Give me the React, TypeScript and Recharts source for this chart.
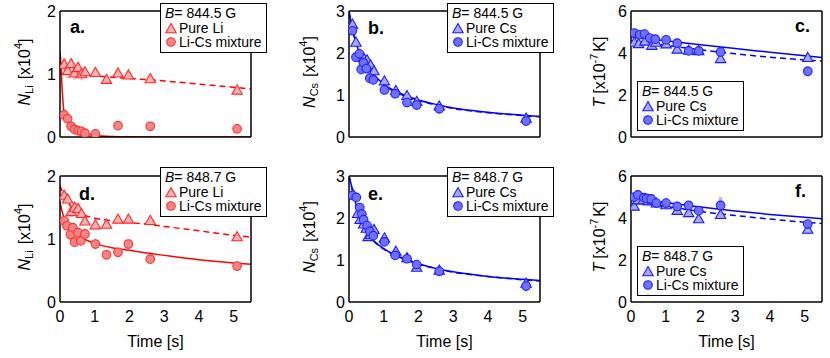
import React from 'react';
import { ComposedChart, Line, Scatter, XAxis, YAxis, Legend, Customized, ErrorBar } from 'recharts';

const FONT = '"Liberation Sans", Arial, Helvetica, sans-serif';

const TIME_TICKS = [0, 1, 2, 3, 4, 5];
const LI_TICKS = [0, 1, 2];
const CS_TICKS = [0, 1, 2, 3];
const TEMP_TICKS = [0, 2, 4, 6];

// ---------- Panel a : Li, B = 844.5 G ----------
const aPureT = [0.12, 0.22, 0.32, 0.42, 0.52, 0.62, 0.72, 1.02, 1.34, 1.67, 1.97, 2.6, 5.1];
const aPureV = [1.15, 1.05, 1.16, 1.01, 1.10, 1.00, 1.03, 1.02, 0.91, 1.01, 0.98, 0.92, 0.74];
const aPureE = [0.10, 0.12, 0.08, 0.10, 0.08, 0.10, 0.06, 0.05, 0.05, 0.05, 0.05, 0.04, 0.04];
const aMixT = [0.12, 0.22, 0.32, 0.42, 0.52, 0.62, 0.72, 1.02, 1.67, 2.6, 5.1];
const aMixV = [0.35, 0.29, 0.17, 0.12, 0.10, 0.09, 0.06, 0.05, 0.18, 0.17, 0.13];
const aMixE = [0.06, 0.06, 0.05, 0.05, 0.04, 0.03, 0.03, 0.02, 0.03, 0.02, 0.02];
const aFitPureT = [0, 1, 2, 3, 4, 5, 5.5];
const aFitPureV = [1.01, 0.97, 0.93, 0.89, 0.84, 0.79, 0.76];
const aFitMixT = [0, 0.03, 0.05, 0.1, 0.15, 0.2, 0.3, 0.4, 0.5, 0.7, 1, 1.5, 2, 3, 4, 5, 5.5];
const aFitMixV = [1.35, 1.12, 0.88, 0.47, 0.33, 0.25, 0.16, 0.115, 0.085, 0.05, 0.025, 0.008, 0.003, 0, 0, 0, 0];

// ---------- Panel d : Li, B = 848.7 G ----------
const dPureT = [0.12, 0.22, 0.32, 0.42, 0.52, 0.62, 0.72, 1.02, 1.34, 1.67, 1.97, 2.6, 5.1];
const dPureV = [1.69, 1.63, 1.43, 1.50, 1.48, 1.40, 1.28, 1.22, 1.23, 1.31, 1.31, 1.29, 1.03];
const dPureE = [0.05, 0.05, 0.08, 0.07, 0.06, 0.06, 0.05, 0.05, 0.05, 0.05, 0.05, 0.04, 0.05];
const dMixT = [0.12, 0.2, 0.3, 0.37, 0.42, 0.52, 0.6, 0.72, 1.02, 1.34, 1.67, 1.97, 2.6, 5.1];
const dMixV = [1.29, 1.21, 1.07, 1.18, 0.95, 1.10, 0.97, 1.08, 0.92, 0.75, 0.79, 0.92, 0.68, 0.57];
const dMixE = [0.06, 0.08, 0.08, 0.06, 0.05, 0.06, 0.06, 0.05, 0.05, 0.08, 0.04, 0.06, 0.04, 0.04];
const dFitT = [0, 0.1, 0.2, 0.3, 0.5, 0.7, 1, 1.5, 2, 2.6, 3, 4, 5, 5.5];
const dFitPureV = [1.85, 1.71, 1.61, 1.53, 1.44, 1.38, 1.33, 1.29, 1.26, 1.23, 1.2, 1.13, 1.06, 1.03];
const dFitMixV = [1.58, 1.36, 1.25, 1.17, 1.07, 1.0, 0.93, 0.86, 0.82, 0.77, 0.74, 0.67, 0.62, 0.6];

// ---------- Panel b : Cs, B = 844.5 G ----------
const bPureT = [0.1, 0.2, 0.3, 0.42, 0.52, 0.62, 0.72, 1.02, 1.35, 1.67, 1.95, 2.6, 5.1];
const bPureV = [2.68, 2.25, 1.95, 1.88, 1.83, 1.71, 1.57, 1.33, 1.10, 0.98, 0.84, 0.73, 0.44];
const bPureE = [0.08, 0.07, 0.07, 0.06, 0.06, 0.06, 0.05, 0.05, 0.04, 0.04, 0.04, 0.03, 0.03];
const bMixT = [0.1, 0.2, 0.3, 0.35, 0.42, 0.5, 0.6, 0.7, 1.02, 1.33, 1.67, 1.95, 2.6, 5.1];
const bMixV = [2.53, 1.90, 1.98, 1.61, 1.77, 1.63, 1.40, 1.36, 1.12, 1.03, 0.82, 0.76, 0.67, 0.38];
const bMixE = [0.08, 0.10, 0.08, 0.12, 0.08, 0.08, 0.06, 0.06, 0.05, 0.05, 0.05, 0.04, 0.04, 0.04];
const csFitT = [0, 0.05, 0.1, 0.2, 0.3, 0.5, 0.7, 1, 1.5, 2, 2.6, 3, 4, 5, 5.5];
const bFitMixV = [3.0, 2.78, 2.59, 2.25, 2.02, 1.71, 1.5, 1.26, 1.03, 0.88, 0.76, 0.69, 0.59, 0.52, 0.49];
const bFitPureV = [2.98, 2.75, 2.56, 2.22, 1.99, 1.68, 1.47, 1.24, 1.01, 0.87, 0.75, 0.68, 0.58, 0.51, 0.48];

// ---------- Panel e : Cs, B = 848.7 G ----------
const ePureT = [0.12, 0.25, 0.32, 0.42, 0.5, 0.55, 0.62, 0.72, 1.02, 1.35, 1.67, 1.95, 2.6, 5.1];
const ePureV = [2.55, 2.10, 1.96, 1.85, 1.75, 1.55, 1.60, 1.72, 1.52, 1.20, 1.05, 0.82, 0.75, 0.44];
const ePureE = [0.08, 0.07, 0.07, 0.06, 0.06, 0.08, 0.06, 0.06, 0.05, 0.04, 0.04, 0.04, 0.03, 0.03];
const eMixT = [0.1, 0.21, 0.31, 0.37, 0.42, 0.52, 0.6, 0.7, 1.02, 1.33, 1.67, 1.95, 2.6, 5.1];
const eMixV = [2.54, 2.49, 2.25, 2.09, 1.96, 1.82, 1.68, 1.58, 1.43, 1.11, 1.03, 0.89, 0.73, 0.38];
const eMixE = [0.10, 0.08, 0.07, 0.06, 0.06, 0.06, 0.06, 0.05, 0.05, 0.05, 0.04, 0.04, 0.04, 0.04];
const eFitMixV = [3.0, 2.84, 2.66, 2.33, 2.04, 1.70, 1.47, 1.27, 1.06, 0.91, 0.78, 0.72, 0.61, 0.54, 0.51];
const eFitPureV = [3.0, 2.83, 2.65, 2.31, 2.02, 1.69, 1.46, 1.26, 1.05, 0.90, 0.78, 0.71, 0.61, 0.53, 0.50];

// ---------- Panel c : T, B = 844.5 G ----------
const cPureT = [0.1, 0.22, 0.4, 0.6, 0.72, 1.01, 1.33, 1.66, 1.95, 2.58, 5.09];
const cPureV = [4.50, 4.43, 4.55, 4.35, 4.50, 4.42, 4.17, 4.12, 4.10, 3.72, 3.77];
const cPureE = [0.12, 0.12, 0.10, 0.10, 0.10, 0.12, 0.10, 0.10, 0.10, 0.18, 0.15];
const cMixT = [0.09, 0.25, 0.39, 0.54, 0.7, 1.01, 1.33, 1.66, 1.95, 2.58, 5.09];
const cMixV = [4.95, 4.87, 4.90, 4.71, 4.66, 4.63, 4.47, 4.10, 4.10, 4.05, 3.13];
const cMixE = [0.10, 0.10, 0.10, 0.10, 0.10, 0.15, 0.12, 0.12, 0.15, 0.15, 0.25];
const tFitT = [0, 1, 2, 3, 4, 5, 5.5];
const cFitMixV = [4.78, 4.58, 4.39, 4.21, 4.04, 3.87, 3.78];
const cFitPureV = [4.60, 4.37, 4.15, 3.96, 3.80, 3.67, 3.62];

// ---------- Panel f : T, B = 848.7 G ----------
const fPureT = [0.09, 0.2, 0.35, 0.5, 0.62, 0.73, 1.01, 1.33, 1.66, 1.95, 2.58, 5.09];
const fPureV = [4.55, 4.85, 4.85, 4.80, 4.85, 4.70, 4.62, 4.35, 4.24, 3.95, 4.15, 3.45];
const fPureE = [0.12, 0.10, 0.10, 0.10, 0.10, 0.10, 0.10, 0.12, 0.12, 0.12, 0.15, 0.22];
const fMixT = [0.09, 0.2, 0.37, 0.45, 0.58, 0.73, 1.01, 1.33, 1.66, 1.95, 2.58, 5.09];
const fMixV = [5.00, 5.10, 4.97, 4.93, 4.91, 4.71, 4.71, 4.55, 4.60, 4.35, 4.60, 3.71];
const fMixE = [0.10, 0.10, 0.10, 0.10, 0.10, 0.10, 0.12, 0.12, 0.15, 0.15, 0.40, 0.18];
const fFitMixV = [4.97, 4.74, 4.52, 4.33, 4.17, 4.03, 3.97];
const fFitPureV = [4.85, 4.56, 4.31, 4.12, 3.95, 3.80, 3.74];

const pts = (ts: number[], vs: number[]) => ts.map((t, i) => ({ t, v: vs[i] }));
const ptsE = (ts: number[], vs: number[], es: number[]) => ts.map((t, i) => ({ t, v: vs[i], e: es[i] }));

const RED = { line: '#ff0000', triFill: '#f9b0b0', triStroke: '#ff2a2a', cirFill: '#f28484', cirStroke: '#ff3030', err: '#f8c4c4' };
const BLUE = { line: '#0000ff', triFill: '#a8a8ff', triStroke: '#1a1aff', cirFill: '#7070ff', cirStroke: '#2020ff', err: '#b8b8ff' };

function Tri({ cx, cy, fill, stroke }: any) {
  return <path d={`M${cx},${cy - 5.4}L${cx + 5.2},${cy + 3.7}L${cx - 5.2},${cy + 3.7}Z`} fill={fill} stroke={stroke} strokeWidth={1.1} />;
}
function Dot({ cx, cy, fill, stroke }: any) {
  return <circle cx={cx} cy={cy} r={4.3} fill={fill} stroke={stroke} strokeWidth={1.1} />;
}

function LegendBox({ field, pureName, c }: any) {
  return (
    <div style={{ width: 107, height: 50, boxSizing: 'border-box', border: '1.5px solid #000', background: '#fff', padding: '2px 0 0 4px', fontFamily: FONT, fontSize: 14, lineHeight: '14.5px', color: '#000', whiteSpace: 'nowrap' }}>
      <div><i>B</i>= {field} G</div>
      <div style={{ display: 'flex', alignItems: 'center', height: 14.5 }}>
        <svg width={13} height={14}><Tri cx={6} cy={8} fill={c.triFill} stroke={c.triStroke} /></svg>
        <span style={{ marginLeft: 1 }}>{pureName}</span>
      </div>
      <div style={{ display: 'flex', alignItems: 'center', height: 14.5 }}>
        <svg width={13} height={14}><Dot cx={6} cy={7} fill={c.cirFill} stroke={c.cirStroke} /></svg>
        <span style={{ marginLeft: 1 }}>Li-Cs mixture</span>
      </div>
    </div>
  );
}

function YTitle(props: any) {
  const { kind, offset } = props;
  const vb = props.viewBox || { x: 30, y: 11, width: 30, height: 126 };
  const x = vb.x + vb.width - offset;
  const y = vb.y + vb.height / 2 - 2;
  const common = { fontFamily: FONT, fontSize: 16, fill: '#000' };
  if (kind === 'T') {
    return (
      <text transform={`translate(${x},${y}) rotate(-90)`} textAnchor="middle" {...common}>
        <tspan fontStyle="italic">T</tspan>
        <tspan dx={4}>[x10</tspan>
        <tspan fontSize={11} dy={-7}>-7</tspan>
        <tspan dy={7} dx={2}>K]</tspan>
      </text>
    );
  }
  return (
    <text transform={`translate(${x},${y}) rotate(-90)`} textAnchor="middle" {...common}>
      <tspan fontStyle="italic">N</tspan>
      <tspan fontSize={11} dy={3}>{kind}</tspan>
      <tspan dy={-3} dx={6}>[x10</tspan>
      <tspan fontSize={11} dy={-8}>4</tspan>
      <tspan dy={8}>]</tspan>
    </text>
  );
}

function TimeLabel(props: any) {
  const vb = props.viewBox || { x: 60, y: 137, width: 191, height: 56 };
  return (
    <text x={vb.x + vb.width / 2} y={vb.y + 45} textAnchor="middle" fontFamily={FONT} fontSize={16} fill="#000">Time [s]</text>
  );
}

const AX = { stroke: '#000', strokeWidth: 1.5 };

function Panel(p: any) {
  const { left, top, letter, letterX, letterY, yMax, yTicks, kind, titleOffset, showX, c, pure, mix, fitPure, fitMix, legendLeft, legendTop, field, pureName } = p;
  return (
    <div style={{ position: 'absolute', left, top }}>
      <ComposedChart width={260} height={193} margin={{ top: 11, right: 9, left: 30, bottom: 0 }}>
        <XAxis dataKey="t" type="number" domain={[0, 5.5]} ticks={TIME_TICKS} allowDataOverflow height={56}
          tickLine={false} tickSize={0} tickMargin={9} axisLine={AX}
          tick={showX ? { fill: '#000', fontSize: 16, fontFamily: FONT } : false}
          label={showX ? { content: (lp: any) => <TimeLabel {...lp} /> } : undefined} />
        <XAxis xAxisId="xin" type="number" domain={[0, 5.5]} ticks={TIME_TICKS} allowDataOverflow orientation="bottom" mirror height={10}
          tick={false} axisLine={false} tickLine={AX} tickSize={4} />
        <XAxis xAxisId="xtop" type="number" domain={[0, 5.5]} ticks={TIME_TICKS} allowDataOverflow orientation="top" mirror height={10}
          tick={false} axisLine={AX} tickLine={AX} tickSize={4} />
        <YAxis dataKey="v" type="number" domain={[0, yMax]} ticks={yTicks} allowDataOverflow width={30}
          tickLine={false} tickSize={0} tickMargin={4} axisLine={AX}
          tick={{ fill: '#000', fontSize: 16, fontFamily: FONT }}
          label={{ content: (lp: any) => <YTitle {...lp} kind={kind} offset={titleOffset} /> }} />
        <YAxis yAxisId="yin" type="number" domain={[0, yMax]} ticks={yTicks} allowDataOverflow orientation="left" mirror width={10}
          tick={false} axisLine={false} tickLine={AX} tickSize={4} />
        <YAxis yAxisId="yright" type="number" domain={[0, yMax]} ticks={yTicks} allowDataOverflow orientation="right" mirror width={10}
          tick={false} axisLine={AX} tickLine={AX} tickSize={4} />
        <Scatter data={pure} dataKey="v" isAnimationActive={false}
          shape={(sp: any) => <Tri cx={sp.cx} cy={sp.cy} fill={c.triFill} stroke={c.triStroke} />}>
          <ErrorBar dataKey="e" direction="y" width={0} stroke={c.err} strokeWidth={3.5} />
        </Scatter>
        <Scatter data={mix} dataKey="v" isAnimationActive={false}
          shape={(sp: any) => <Dot cx={sp.cx} cy={sp.cy} fill={c.cirFill} stroke={c.cirStroke} />}>
          <ErrorBar dataKey="e" direction="y" width={0} stroke={c.err} strokeWidth={3.5} />
        </Scatter>
        <Line data={fitPure} dataKey="v" type="monotone" stroke={c.line} strokeWidth={1.5} strokeDasharray="6 4" dot={false} activeDot={false} isAnimationActive={false} />
        <Line data={fitMix} dataKey="v" type="monotone" stroke={c.line} strokeWidth={1.5} dot={false} activeDot={false} isAnimationActive={false} />
        <Customized component={() => (
          <text x={letterX} y={letterY} fontFamily={FONT} fontSize={18} fontWeight="bold" fill="#000">{letter}</text>
        )} />
        <Legend layout="vertical" align="center" verticalAlign="middle"
          wrapperStyle={{ left: legendLeft, top: legendTop, width: 107, height: 50 }}
          content={() => <LegendBox field={field} pureName={pureName} c={c} />} />
      </ComposedChart>
    </div>
  );
}

export default function App() {
  return (
    <div style={{ position: 'absolute', left: 0, top: 0, width: 830, height: 358, overflow: 'hidden', background: '#fff' }}>
      <Panel left={0} top={0} letter="a." letterX={70} letterY={33} yMax={2} yTicks={LI_TICKS} kind="Li" titleOffset={30} showX={false} c={RED}
        pure={ptsE(aPureT, aPureV, aPureE)} mix={ptsE(aMixT, aMixV, aMixE)} fitPure={pts(aFitPureT, aFitPureV)} fitMix={pts(aFitMixT, aFitMixV)}
        legendLeft={160} legendTop={3} field="844.5" pureName="Pure Li" />
      <Panel left={289} top={0} letter="b." letterX={79} letterY={34} yMax={3} yTicks={CS_TICKS} kind="Cs" titleOffset={34} showX={false} c={BLUE}
        pure={ptsE(bPureT, bPureV, bPureE)} mix={ptsE(bMixT, bMixV, bMixE)} fitPure={pts(csFitT, bFitPureV)} fitMix={pts(csFitT, bFitMixV)}
        legendLeft={158} legendTop={3} field="844.5" pureName="Pure Cs" />
      <Panel left={571} top={0} letter="c." letterX={224} letterY={32} yMax={6} yTicks={TEMP_TICKS} kind="T" titleOffset={26} showX={false} c={BLUE}
        pure={ptsE(cPureT, cPureV, cPureE)} mix={ptsE(cMixT, cMixV, cMixE)} fitPure={pts(tFitT, cFitPureV)} fitMix={pts(tFitT, cFitMixV)}
        legendLeft={66} legendTop={81} field="844.5" pureName="Pure Cs" />
      <Panel left={0} top={165} letter="d." letterX={79} letterY={35} yMax={2} yTicks={LI_TICKS} kind="Li" titleOffset={30} showX={true} c={RED}
        pure={ptsE(dPureT, dPureV, dPureE)} mix={ptsE(dMixT, dMixV, dMixE)} fitPure={pts(dFitT, dFitPureV)} fitMix={pts(dFitT, dFitMixV)}
        legendLeft={160} legendTop={2} field="848.7" pureName="Pure Li" />
      <Panel left={289} top={165} letter="e." letterX={79} letterY={35} yMax={3} yTicks={CS_TICKS} kind="Cs" titleOffset={34} showX={true} c={BLUE}
        pure={ptsE(ePureT, ePureV, ePureE)} mix={ptsE(eMixT, eMixV, eMixE)} fitPure={pts(csFitT, eFitPureV)} fitMix={pts(csFitT, eFitMixV)}
        legendLeft={158} legendTop={2} field="848.7" pureName="Pure Cs" />
      <Panel left={571} top={165} letter="f." letterX={224} letterY={32} yMax={6} yTicks={TEMP_TICKS} kind="T" titleOffset={26} showX={true} c={BLUE}
        pure={ptsE(fPureT, fPureV, fPureE)} mix={ptsE(fMixT, fMixV, fMixE)} fitPure={pts(tFitT, fFitPureV)} fitMix={pts(tFitT, fFitMixV)}
        legendLeft={66} legendTop={81} field="848.7" pureName="Pure Cs" />
    </div>
  );
}
